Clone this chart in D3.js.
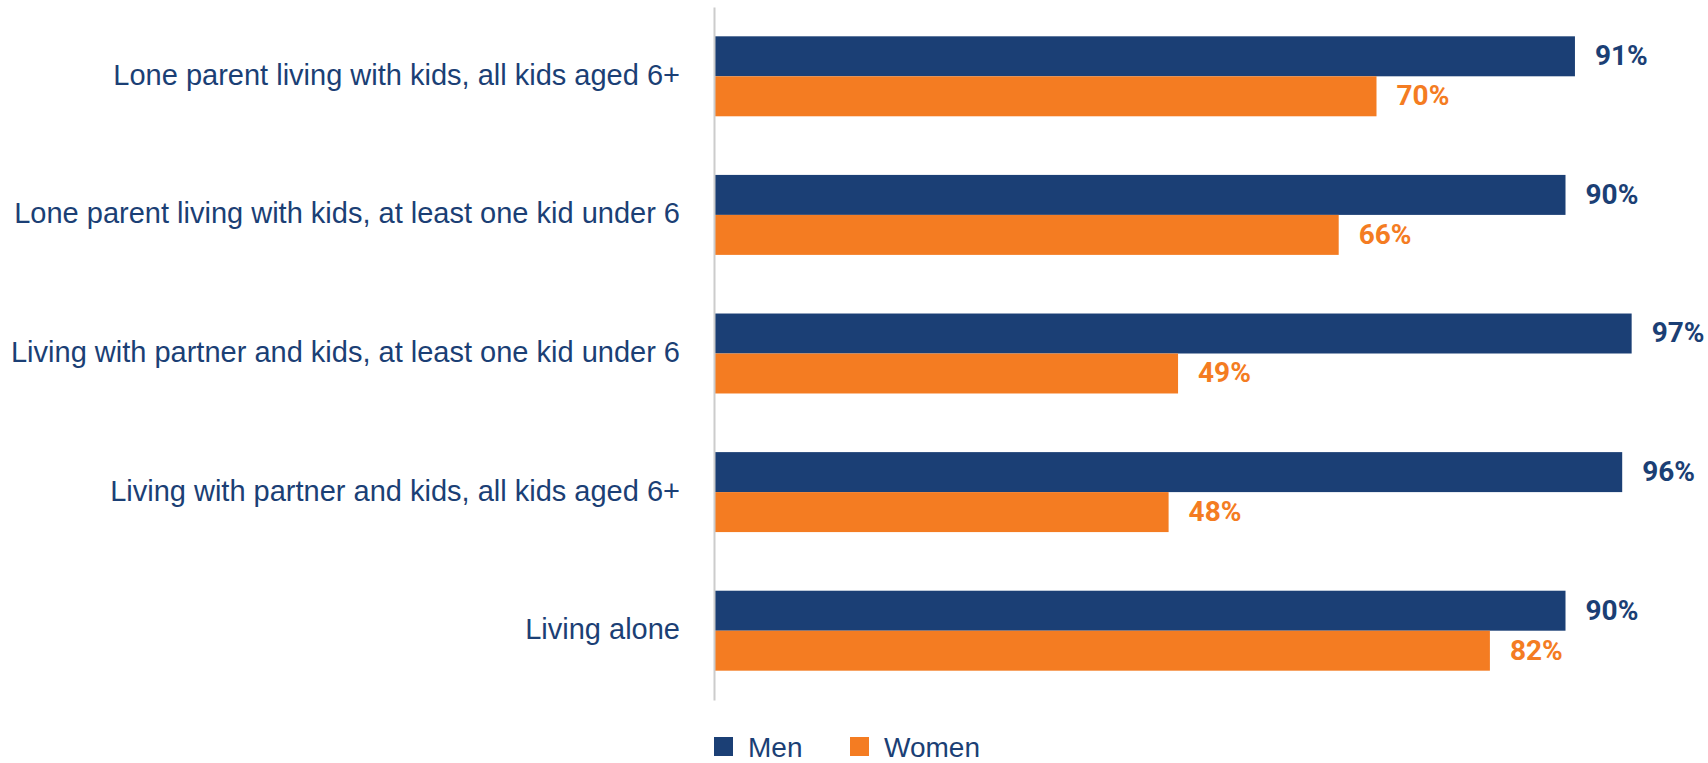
<!DOCTYPE html>
<html>
<head>
<meta charset="utf-8">
<script src="https://cdn.jsdelivr.net/npm/d3@7"></script>
<style>
    body { margin: 0; background: #ffffff; }
    svg { display: block; }
</style>
</head>
<body>
<div id="chart"></div>
<script>
// DATA
// ================================================================================== //

const categories = [
    "Lone parent living with kids, all kids aged 6+",
    "Lone parent living with kids, at least one kid under 6",
    "Living with partner and kids, at least one kid under 6",
    "Living with partner and kids, all kids aged 6+",
    "Living alone"
]
const series = ["Men", "Women"]
const menValues = [91, 90, 97, 96, 90]
const womenValues = [70, 66, 49, 48, 82]

// ================================================================================== //

const width = 1708
const height = 763
const navy = "#1b3f75"
const orange = "#f47c22"

const rows = categories.map((c, i) => ({ category: c, Men: menValues[i], Women: womenValues[i] }))

const x = d3.scaleLinear()
    .domain([0, 100])
    .range([715, 1660])

const y = d3.scaleBand()
    .domain(categories)
    .range([7, 700])
    .paddingInner(0.423)
    .paddingOuter(0.2115)

const ySub = d3.scaleBand()
    .domain(series)
    .range([0, y.bandwidth()])

const color = d3.scaleOrdinal()
    .domain(series)
    .range([navy, orange])

const svg = d3.select("#chart")
    .append("svg")
    .attr("width", width)
    .attr("height", height)
    .attr("viewBox", [0, 0, width, height])

const groups = svg.append("g")
    .selectAll("g")
    .data(rows)
    .join("g")
    .attr("transform", d => `translate(0,${y(d.category)})`)

groups.selectAll("rect")
    .data(d => series.map(s => ({ key: s, value: d[s] })))
    .join("rect")
    .attr("x", x(0))
    .attr("y", d => ySub(d.key))
    .attr("width", d => x(d.value) - x(0))
    .attr("height", ySub.bandwidth())
    .attr("fill", d => color(d.key))

// value labels
groups.selectAll("text.value")
    .data(d => series.map(s => ({ key: s, value: d[s] })))
    .join("text")
    .attr("class", "value")
    .attr("x", d => x(d.value) + 20)
    .attr("y", d => ySub(d.key) + ySub.bandwidth() / 2 + 9)
    .attr("fill", d => color(d.key))
    .attr("style", "font-family: Roboto, 'Liberation Sans', sans-serif; font-weight: 700; font-size: 28px")
    .text(d => `${d.value}%`)

// category axis on the left
const yAxis = g => g
    .attr("transform", `translate(${x(0) - 1},0)`)
    .call(d3.axisLeft(y).tickSize(0).tickPadding(34))
    .call(g => g.select(".domain")
        .attr("stroke", "#cccccc")
        .attr("stroke-width", 2))
    .call(g => g.selectAll("text")
        .attr("fill", navy)
        .attr("dy", "0.29em")
        .attr("style", "font-family: 'Liberation Sans', Arial, sans-serif; font-size: 29px"))

svg.append("g")
    .call(yAxis)

// legend (nudged up a little so the text is not clipped by the bottom edge)
const legend = svg.append("g")
    .selectAll("g")
    .data(series)
    .join("g")
    .attr("transform", (d, i) => `translate(${714 + i * 136},737)`)

legend.append("rect")
    .attr("width", 19)
    .attr("height", 19)
    .attr("fill", d => color(d))

legend.append("text")
    .attr("x", 34)
    .attr("y", 20)
    .attr("fill", navy)
    .attr("style", "font-family: 'Liberation Sans', Arial, sans-serif; font-size: 28px")
    .text(d => d)
</script>
</body>
</html>
